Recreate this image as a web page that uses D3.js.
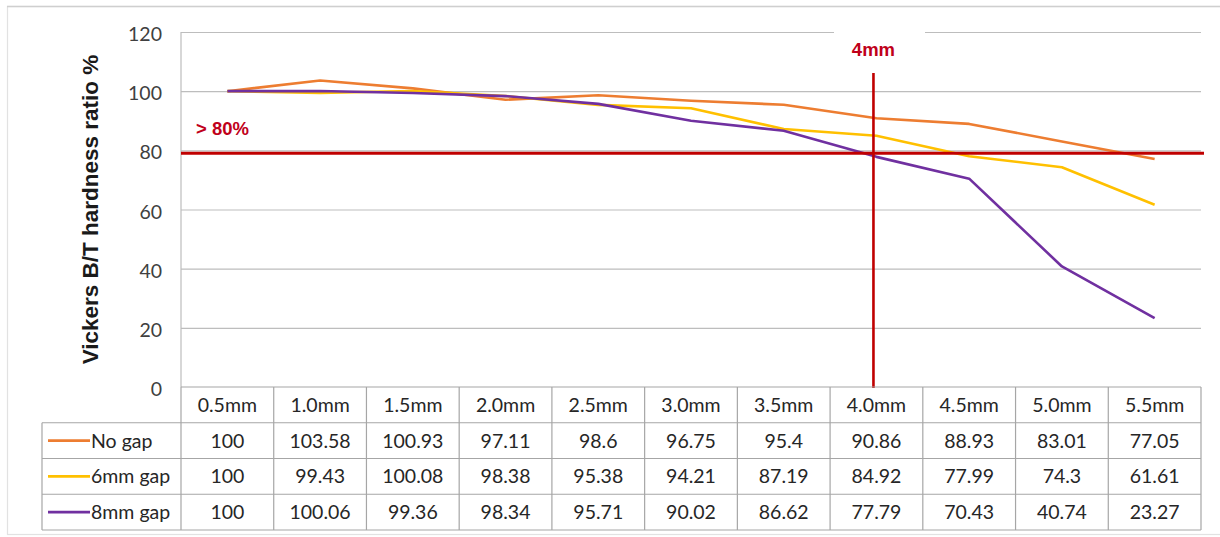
<!DOCTYPE html>
<html>
<head>
<meta charset="utf-8">
<script src="https://cdn.jsdelivr.net/npm/d3@7"></script>
<style>
  html, body { margin: 0; padding: 0; background: #fff; }
  svg { display: block; font-family: Lato, "Liberation Sans", sans-serif; }
</style>
</head>
<body>
<svg id="chart" width="1220" height="537"></svg>
<script>
// ---- data ----
const categories = ["0.5mm","1.0mm","1.5mm","2.0mm","2.5mm","3.0mm","3.5mm","4.0mm","4.5mm","5.0mm","5.5mm"];
const seriesNames = ["No gap","6mm gap","8mm gap"];
const noGap  = [100,103.58,100.93,97.11,98.6,96.75,95.4,90.86,88.93,83.01,77.05];
const gap6mm = [100,99.43,100.08,98.38,95.38,94.21,87.19,84.92,77.99,74.3,61.61];
const gap8mm = [100,100.06,99.36,98.34,95.71,90.02,86.62,77.79,70.43,40.74,23.27];
const seriesColors = ["#ED7D31","#FFC000","#7030A0"];
const yTicks = [0,20,40,60,80,100,120];
const thresholdValue = 79;
const thresholdLabel = "> 80%";
const markerCategory = "4.0mm";
const markerLabel = "4mm";
const yTitle = "Vickers B/T hardness ratio %";

const seriesValues = [noGap, gap6mm, gap8mm];

// ---- layout ----
const svg = d3.select("#chart");
const plotLeft = 181, plotRight = 1201, plotTop = 32, plotBottom = 387;
const tableBottom = 530, legendLeft = 42;

const x = d3.scaleBand().domain(categories).range([plotLeft, plotRight]);
const y = d3.scaleLinear().domain([0, 120]).range([plotBottom, plotTop]);
const rows = d3.scaleBand().domain(["header"].concat(seriesNames)).range([plotBottom, tableBottom]);

// outer frame
svg.append("rect").attr("x", 7.5).attr("y", 6.5).attr("width", 1230).attr("height", 528)
  .attr("fill", "none").attr("stroke", "#e2e2e2").attr("stroke-width", 1.2);
svg.append("line").attr("x1", 7).attr("x2", 1220).attr("y1", 6.5).attr("y2", 6.5)
  .attr("stroke", "#cfcfcf").attr("stroke-width", 1.5);

// gridlines
const gridG = svg.append("g")
  .attr("transform", `translate(${plotLeft},0)`)
  .call(d3.axisLeft(y).tickValues(yTicks.filter(v => v > 0)).tickSize(-(plotRight - plotLeft)).tickFormat(""));
gridG.select(".domain").remove();
gridG.selectAll(".tick line").attr("stroke", "#bdbdbd").attr("stroke-width", 1.2);

// gap in top gridline behind "4mm" label
svg.append("rect").attr("x", 834).attr("y", 27).attr("width", 91).attr("height", 10).attr("fill", "#fff");

// y axis line
svg.append("line").attr("x1", plotLeft).attr("x2", plotLeft).attr("y1", plotTop).attr("y2", plotBottom)
  .attr("stroke", "#bdbdbd").attr("stroke-width", 1.2);

// y tick labels
const yAx = svg.append("g")
  .attr("transform", `translate(${plotLeft},0)`)
  .call(d3.axisLeft(y).tickValues(yTicks).tickSize(0).tickPadding(19).tickFormat(d3.format("d")));
yAx.select(".domain").remove();
yAx.selectAll("text").attr("font-size", 19.5).attr("fill", "#404040")
  .attr("font-family", "Lato, 'Liberation Sans', sans-serif").attr("dy", "0.44em");

// y title
svg.append("text")
  .attr("transform", `translate(98,${(plotTop + plotBottom) / 2}) rotate(-90)`)
  .attr("text-anchor", "middle").attr("font-size", 22.5).attr("font-weight", "bold")
  .attr("font-family", "'Liberation Sans', Arial, sans-serif")
  .attr("fill", "#1a1a1a").text(yTitle);

// series lines
const line = d3.line().x((d, i) => x(categories[i]) + x.bandwidth() / 2).y(d => y(d));
seriesValues.forEach((vals, si) => {
  svg.append("path").datum(vals).attr("d", line).attr("fill", "none")
    .attr("stroke", seriesColors[si]).attr("stroke-width", 2.6).attr("stroke-linejoin", "round");
});

// threshold line
svg.append("line").attr("x1", plotLeft).attr("x2", plotRight + 3)
  .attr("y1", y(thresholdValue)).attr("y2", y(thresholdValue))
  .attr("stroke", "#C00000").attr("stroke-width", 3);
svg.append("text").attr("x", plotLeft + 15).attr("y", y(thresholdValue) - 18)
  .attr("font-size", 18.5).attr("font-weight", "bold").attr("fill", "#C0001A")
  .attr("font-family", "'Liberation Sans', Arial, sans-serif").text(thresholdLabel);

// vertical marker
const mx = x(markerCategory) + x.bandwidth() / 2 - 3;
svg.append("line").attr("x1", mx).attr("x2", mx).attr("y1", 73).attr("y2", plotBottom + 1)
  .attr("stroke", "#C00000").attr("stroke-width", 2.6);
svg.append("text").attr("x", mx).attr("y", 56).attr("text-anchor", "middle")
  .attr("font-size", 18.5).attr("font-weight", "bold").attr("fill", "#C0001A")
  .attr("font-family", "'Liberation Sans', Arial, sans-serif").text(markerLabel);

// ---- data table ----
const tbl = svg.append("g");
const borderColor = "#a6a6a6";
rows.domain().forEach((r, i) => {
  const yy = rows(r);
  tbl.append("line").attr("x1", i === 0 ? plotLeft : legendLeft).attr("x2", plotRight)
    .attr("y1", yy).attr("y2", yy).attr("stroke", borderColor).attr("stroke-width", 1.2);
});
tbl.append("line").attr("x1", legendLeft).attr("x2", plotRight).attr("y1", tableBottom).attr("y2", tableBottom)
  .attr("stroke", borderColor).attr("stroke-width", 1.2);
categories.forEach(c => {
  tbl.append("line").attr("x1", x(c)).attr("x2", x(c)).attr("y1", plotBottom).attr("y2", tableBottom)
    .attr("stroke", borderColor).attr("stroke-width", 1.2);
});
tbl.append("line").attr("x1", plotRight).attr("x2", plotRight).attr("y1", plotBottom).attr("y2", tableBottom)
  .attr("stroke", borderColor).attr("stroke-width", 1.2);
tbl.append("line").attr("x1", legendLeft).attr("x2", legendLeft).attr("y1", rows(seriesNames[0])).attr("y2", tableBottom)
  .attr("stroke", borderColor).attr("stroke-width", 1.2);

const textColor = "#262626";
const tableFont = 19.5;
categories.forEach(c => {
  tbl.append("text").attr("x", x(c) + x.bandwidth() / 2).attr("y", rows("header") + rows.bandwidth() / 2)
    .attr("dy", "0.36em").attr("text-anchor", "middle").attr("font-size", tableFont).attr("fill", textColor).text(c);
});
seriesNames.forEach((s, si) => {
  const cy = rows(s) + rows.bandwidth() / 2;
  tbl.append("line").attr("x1", legendLeft + 6).attr("x2", legendLeft + 48).attr("y1", cy).attr("y2", cy)
    .attr("stroke", seriesColors[si]).attr("stroke-width", 2.6);
  tbl.append("text").attr("x", legendLeft + 49).attr("y", cy).attr("dy", "0.36em")
    .attr("font-size", tableFont).attr("fill", textColor).text(s);
  seriesValues[si].forEach((v, i) => {
    tbl.append("text").attr("x", x(categories[i]) + x.bandwidth() / 2).attr("y", cy).attr("dy", "0.36em")
      .attr("text-anchor", "middle").attr("font-size", tableFont).attr("fill", textColor).text(String(v));
  });
});
</script>
</body>
</html>
